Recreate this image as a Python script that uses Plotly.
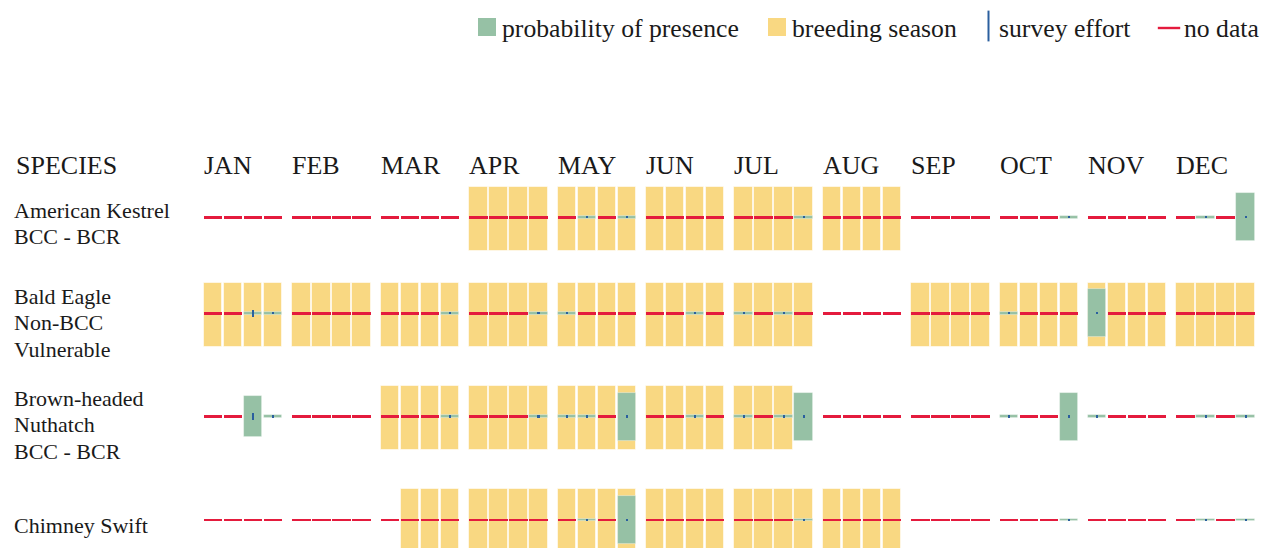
import plotly.graph_objects as go

# ---------------------------------------------------------------- data
MONTHS = ["JAN", "FEB", "MAR", "APR", "MAY", "JUN",
          "JUL", "AUG", "SEP", "OCT", "NOV", "DEC"]

SPECIES_LINES = [
    ["American Kestrel", "BCC - BCR"],
    ["Bald Eagle", "Non-BCC", "Vulnerable"],
    ["Brown-headed", "Nuthatch", "BCC - BCR"],
    ["Chimney Swift"],
]

N = None  # week without survey data

# breeding season flags, 4 weeks per month
KESTREL_BREEDING = [0, 0, 0, 0, 0, 0, 0, 0, 0, 0, 0, 0,
                    1, 1, 1, 1, 1, 1, 1, 1, 1, 1, 1, 1,
                    1, 1, 1, 1, 1, 1, 1, 1, 0, 0, 0, 0,
                    0, 0, 0, 0, 0, 0, 0, 0, 0, 0, 0, 0]
EAGLE_BREEDING = [1, 1, 1, 1, 1, 1, 1, 1, 1, 1, 1, 1,
                  1, 1, 1, 1, 1, 1, 1, 1, 1, 1, 1, 1,
                  1, 1, 1, 1, 0, 0, 0, 0, 1, 1, 1, 1,
                  1, 1, 1, 1, 1, 1, 1, 1, 1, 1, 1, 1]
NUTHATCH_BREEDING = [0, 0, 0, 0, 0, 0, 0, 0, 1, 1, 1, 1,
                     1, 1, 1, 1, 1, 1, 1, 1, 1, 1, 1, 1,
                     1, 1, 1, 0, 0, 0, 0, 0, 0, 0, 0, 0,
                     0, 0, 0, 0, 0, 0, 0, 0, 0, 0, 0, 0]
SWIFT_BREEDING = [0, 0, 0, 0, 0, 0, 0, 0, 0, 1, 1, 1,
                  1, 1, 1, 1, 1, 1, 1, 1, 1, 1, 1, 1,
                  1, 1, 1, 1, 1, 1, 1, 1, 0, 0, 0, 0,
                  0, 0, 0, 0, 0, 0, 0, 0, 0, 0, 0, 0]

# probability of presence, 0-10 scale
KESTREL_PRESENCE = [N, N, N, N, N, N, N, N, N, N, N, N,
                    N, N, N, N, N, 0.4, N, 0.4, N, N, N, N,
                    N, N, N, 0.4, N, N, N, N, N, N, N, N,
                    N, N, N, 0.4, N, N, N, N, N, 0.4, N, 7.5]
EAGLE_PRESENCE = [N, N, 0.4, 0.4, N, N, N, N, N, N, N, 0.4,
                  N, N, N, 0.4, 0.4, N, N, N, N, N, 0.4, N,
                  0.4, N, 0.4, N, N, N, N, N, N, N, N, N,
                  0.4, N, N, N, 7.5, N, N, N, N, N, N, N]
NUTHATCH_PRESENCE = [N, N, 6.5, 0.4, N, N, N, N, N, N, N, 0.4,
                     N, N, N, 0.4, 0.4, 0.4, N, 7.5, N, N, 0.4, N,
                     0.4, N, 0.4, 7.5, N, N, N, N, N, N, N, N,
                     0.4, N, N, 7.5, 0.4, N, N, N, N, 0.4, N, 0.4]
SWIFT_PRESENCE = [N, N, N, N, N, N, N, N, N, N, N, N,
                  N, N, N, N, N, 0.4, N, 7.5, N, N, N, N,
                  N, N, N, 0.4, N, N, N, N, N, N, N, N,
                  N, N, N, 0.4, N, N, N, N, N, 0.4, N, 0.4]

# survey effort per week (0 = none)
KESTREL_EFFORT = [0, 0, 0, 0, 0, 0, 0, 0, 0, 0, 0, 0,
                  0, 0, 0, 0, 0, 1, 0, 1, 0, 0, 0, 0,
                  0, 0, 0, 1, 0, 0, 0, 0, 0, 0, 0, 0,
                  0, 0, 0, 1, 0, 0, 0, 0, 0, 1, 0, 1]
EAGLE_EFFORT = [0, 0, 3, 1, 0, 0, 0, 0, 0, 0, 0, 1,
                0, 0, 0, 1, 1, 0, 0, 0, 0, 0, 1, 0,
                1, 0, 1, 0, 0, 0, 0, 0, 0, 0, 0, 0,
                1, 0, 0, 0, 1, 0, 0, 0, 0, 0, 0, 0]
NUTHATCH_EFFORT = [0, 0, 3, 1, 0, 0, 0, 0, 0, 0, 0, 1,
                   0, 0, 0, 1, 1, 1, 0, 1, 0, 0, 1, 0,
                   1, 0, 1, 1, 0, 0, 0, 0, 0, 0, 0, 0,
                   1, 0, 0, 1, 1, 0, 0, 0, 0, 1, 0, 1]
SWIFT_EFFORT = [0, 0, 0, 0, 0, 0, 0, 0, 0, 0, 0, 0,
                0, 0, 0, 0, 0, 1, 0, 1, 0, 0, 0, 0,
                0, 0, 0, 1, 0, 0, 0, 0, 0, 0, 0, 0,
                0, 0, 0, 1, 0, 0, 0, 0, 0, 1, 0, 1]

BREEDING = [KESTREL_BREEDING, EAGLE_BREEDING, NUTHATCH_BREEDING, SWIFT_BREEDING]
PRESENCE = [KESTREL_PRESENCE, EAGLE_PRESENCE, NUTHATCH_PRESENCE, SWIFT_PRESENCE]
EFFORT = [KESTREL_EFFORT, EAGLE_EFFORT, NUTHATCH_EFFORT, SWIFT_EFFORT]

LEGEND_TEXT = ["probability of presence", "breeding season", "survey effort", "no data"]

# ---------------------------------------------------------------- layout
W, H = 1270, 548
FONT = "Liberation Serif, Times New Roman, serif"
TEXT = "#1a1a1a"
YELLOW = "#F9D882"
GREEN = "#96C1A5"
RED = "#E41B3D"
BLUE = "#2B5F9E"

X0 = 213.2          # centre of first week cell
MONTH_STEP = 88.4
WEEK_STEP = 20.0
CELL_W = 18.3
CELL_H = 64.0
ROW_CENTER = [218.5, 314.5, 417.7, 521.0]
LINE_OFFSET = -1.2   # centre of the data line relative to the cell centre
LINE_H = 2.4
TICK_W = 2.2
TICK_PX = 2.2        # tick height per unit of survey effort
LABEL_X = 12
LABEL_TOP = [210, 296, 398, 525]
LABEL_STEP = 26.8
HEADER_Y = 165


def cell_x(i):
    return X0 + (i // 4) * MONTH_STEP + (i % 4) * WEEK_STEP


fig = go.Figure()

bx, bb, bh = [], [], []
rx, rb = [], []
gx, gb, gh = [], [], []
tx, tb, th = [], [], []
for r in range(len(BREEDING)):
    c = ROW_CENTER[r]
    line_c = c + LINE_OFFSET
    for i in range(48):
        x = cell_x(i)
        if BREEDING[r][i]:
            bx.append(x); bb.append(c - CELL_H / 2); bh.append(CELL_H)
        p = PRESENCE[r][i]
        if p is None:
            rx.append(x); rb.append(line_c - LINE_H / 2)
        else:
            h = max(p / 10 * CELL_H, LINE_H)
            gx.append(x); gb.append(line_c - h / 2); gh.append(h)
        e = EFFORT[r][i]
        if e:
            h = e * TICK_PX
            tx.append(x); tb.append(line_c - h / 2); th.append(h)

fig.add_trace(go.Bar(x=bx, y=bh, base=bb, width=CELL_W,
                     marker=dict(color=YELLOW, line=dict(color="rgba(255,255,255,0.55)", width=1)),
                     hoverinfo="skip"))
fig.add_trace(go.Bar(x=rx, y=[LINE_H] * len(rx), base=rb, width=CELL_W,
                     marker=dict(color=RED, line=dict(width=0)), hoverinfo="skip"))
fig.add_trace(go.Bar(x=gx, y=gh, base=gb, width=CELL_W,
                     marker=dict(color=GREEN, line=dict(color="rgba(255,255,255,0.45)", width=0.8)),
                     hoverinfo="skip"))
fig.add_trace(go.Bar(x=tx, y=th, base=tb, width=TICK_W,
                     marker=dict(color=BLUE, line=dict(width=0)), hoverinfo="skip"))

# legend glyphs
LEG_Y = 27
LEG_SYMBOL_X = [487, 777, 988.5, 1169]
LEG_TEXT_X = [500, 790, 997, 1182]
fig.add_trace(go.Scatter(x=LEG_SYMBOL_X[:2], y=[LEG_Y, LEG_Y], mode="markers",
                         marker=dict(symbol="square", size=18, color=[GREEN, YELLOW],
                                     line=dict(width=0)), hoverinfo="skip"))
fig.add_trace(go.Scatter(x=[LEG_SYMBOL_X[2]], y=[LEG_Y - 1], mode="markers",
                         marker=dict(symbol="line-ns", size=22, line=dict(color=BLUE, width=2)),
                         hoverinfo="skip"))
fig.add_trace(go.Scatter(x=[LEG_SYMBOL_X[3]], y=[LEG_Y + 1], mode="markers",
                         marker=dict(symbol="line-ew", size=16, line=dict(color=RED, width=2.4)),
                         hoverinfo="skip"))

ann = []
for t, x in zip(LEGEND_TEXT, LEG_TEXT_X):
    ann.append(dict(x=x, y=LEG_Y + 1, text=t, xanchor="left", yanchor="middle",
                    showarrow=False, font=dict(family=FONT, size=25.7, color=TEXT)))
ann.append(dict(x=14, y=HEADER_Y, text="SPECIES", xanchor="left", yanchor="middle",
                showarrow=False, font=dict(family=FONT, size=26, color=TEXT)))
for m, name in enumerate(MONTHS):
    ann.append(dict(x=cell_x(m * 4) - CELL_W / 2 - 2, y=HEADER_Y, text=name,
                    xanchor="left", yanchor="middle", showarrow=False,
                    font=dict(family=FONT, size=26, color=TEXT)))
for r, lines in enumerate(SPECIES_LINES):
    for k, line in enumerate(lines):
        ann.append(dict(x=LABEL_X, y=LABEL_TOP[r] + k * LABEL_STEP, text=line,
                        xanchor="left", yanchor="middle", showarrow=False,
                        font=dict(family=FONT, size=22, color=TEXT)))

fig.update_layout(
    width=W, height=H, autosize=False,
    margin=dict(l=0, r=0, t=0, b=0),
    paper_bgcolor="white", plot_bgcolor="white",
    barmode="overlay", bargap=0, showlegend=False,
    xaxis=dict(range=[0, W], visible=False, fixedrange=True),
    yaxis=dict(range=[H, 0], visible=False, fixedrange=True),
    annotations=ann,
)

fig.write_html("out.html", config={"displayModeBar": False})
